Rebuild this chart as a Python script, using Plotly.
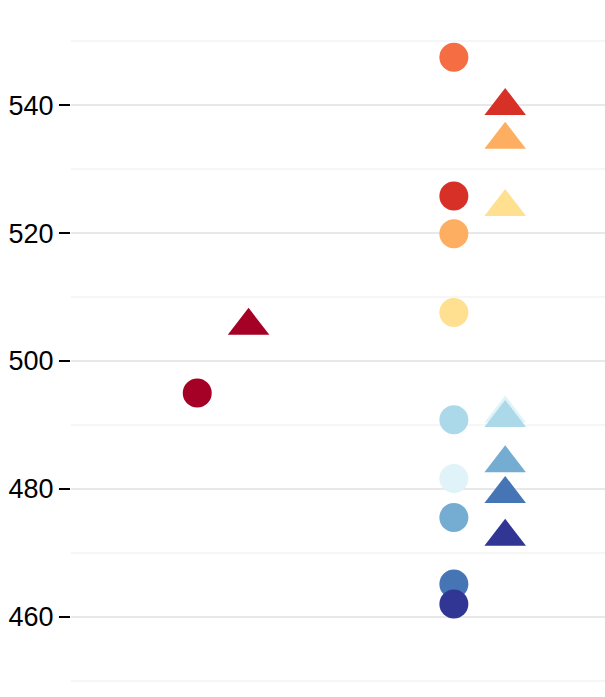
import plotly.graph_objects as go

# Data
groups = ["G1", "G2", "G3", "G4", "G5", "G6", "G7", "G8", "G9", "G10"]
colors = ["#a50026", "#d73027", "#f46d43", "#fdae61", "#fee090",
          "#e0f3f8", "#abd9e9", "#74add1", "#4575b4", "#313695"]
category_index = [0, 1, 1, 1, 1, 1, 1, 1, 1, 1]
circle_values = [495.0, 525.8, 547.5, 519.9, 507.6, 481.6, 490.8, 475.5, 465.1, 462.0]
triangle_values = [505.5, 539.9, None, 534.6, 524.1, 491.8, 491.1, 484.0, 479.2, 472.5]
y_tick_values = [460, 480, 500, 520, 540]
y_tick_labels = ["460", "480", "500", "520", "540"]

dodge = 0.1

fig = go.Figure()
for g, col, cat, cv, tv in zip(groups, colors, category_index, circle_values, triangle_values):
    xs, ys, syms, sizes = [], [], [], []
    if cv is not None:
        xs.append(cat - dodge); ys.append(cv); syms.append("circle"); sizes.append(29)
    if tv is not None:
        xs.append(cat + dodge); ys.append(tv); syms.append("triangle-up"); sizes.append(36)
    fig.add_trace(go.Scatter(
        x=xs, y=ys, mode="markers", name=g, showlegend=False,
        marker=dict(color=col, symbol=syms, size=sizes, opacity=1, line=dict(width=0)),
    ))

fig.update_layout(
    width=605, height=697,
    margin=dict(l=71, r=0, t=35, b=10, autoexpand=False),
    paper_bgcolor="white", plot_bgcolor="white",
    font=dict(family="Liberation Sans, Arial, sans-serif", size=27, color="black"),
    showlegend=False,
)
fig.update_xaxes(
    range=[-0.592, 1.489], showgrid=False, zeroline=False,
    showticklabels=False, showline=False, ticks="",
)
fig.update_yaxes(
    range=[449, 551], tickvals=y_tick_values, ticktext=y_tick_labels,
    showgrid=True, gridcolor="#e8e8e8", gridwidth=1.6,
    zeroline=False, showline=False, automargin=False,
    ticks="outside", ticklen=11, tickwidth=2.2, tickcolor="black",
    minor=dict(dtick=10, tick0=0, showgrid=True, gridcolor="#f6f6f6", gridwidth=1.6, ticks=""),
    tickfont=dict(family="Liberation Sans, Arial, sans-serif", size=27, color="black"),
)

fig.write_html("out.html", config={"displayModeBar": False},
               post_script="document.body.style.margin='0';")
